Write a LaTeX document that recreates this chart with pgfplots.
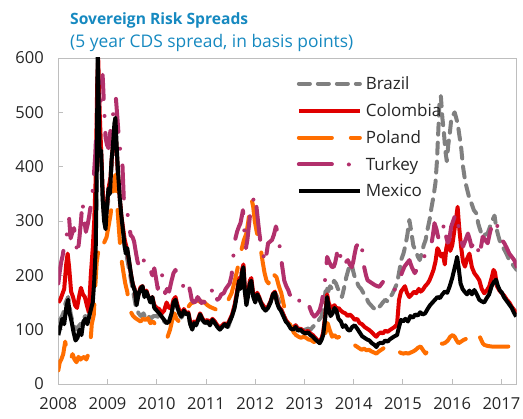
\documentclass[border=0pt]{standalone}
\usepackage{fontspec}
\setmainfont{Open Sans}
\usepackage{pgfplots}
\usepackage{pgfplotstable}
\pgfplotsset{compat=1.18}
\definecolor{ttl}{RGB}{22,137,192}
\definecolor{brz}{RGB}{128,128,128}
\definecolor{col}{RGB}{224,0,0}
\definecolor{pol}{RGB}{255,110,0}
\definecolor{tur}{RGB}{178,48,108}
\definecolor{axc}{RGB}{190,190,190}
\begin{document}
\pgfplotstableread{
t v
2008.00 115
2008.05 120
2008.10 130
2008.15 150
2008.20 160
2008.25 130
2008.30 110
2008.35 100
2008.40 105
2008.45 110
2008.50 120
2008.55 125
2008.60 120
2008.65 135
2008.70 160
2008.74 220
2008.77 320
2008.80 580
2008.83 480
2008.87 410
2008.91 330
2008.95 300
2008.99 320
2009.03 350
2009.07 390
2009.11 420
2009.15 450
2009.19 410
2009.23 360
2009.27 320
2009.31 280
2009.35 250
2009.39 235
2009.43 215
2009.48 190
2009.53 165
2009.58 140
2009.63 130
2009.68 125
2009.73 130
2009.78 120
2009.83 125
2009.88 120
2009.93 125
2010.00 125
2010.05 122
2010.10 120
2010.15 115
2010.20 112
2010.25 115
2010.30 130
2010.35 150
2010.40 145
2010.45 130
2010.50 122
2010.55 130
2010.60 125
2010.65 120
2010.70 105
2010.75 110
2010.80 108
2010.85 118
2010.90 120
2010.95 115
2011.00 112
2011.05 112
2011.10 108
2011.15 115
2011.20 110
2011.25 105
2011.30 100
2011.35 105
2011.40 108
2011.45 105
2011.50 118
2011.55 130
2011.60 150
2011.65 175
2011.70 180
2011.74 210
2011.78 175
2011.82 150
2011.86 168
2011.90 185
2011.94 175
2011.98 155
2012.03 165
2012.08 155
2012.13 145
2012.18 140
2012.23 138
2012.28 145
2012.33 155
2012.38 165
2012.42 165
2012.47 155
2012.52 140
2012.57 128
2012.62 118
2012.67 112
2012.72 105
2012.77 103
2012.82 108
2012.87 102
2012.92 105
2012.97 100
2013.02 100
2013.07 102
2013.12 100
2013.17 105
2013.22 110
2013.27 115
2013.31 120
2013.35 125
2013.40 150
2013.44 180
2013.48 170
2013.52 180
2013.56 175
2013.60 190
2013.64 185
2013.68 175
2013.72 170
2013.76 160
2013.80 175
2013.85 197
2013.89 210
2013.93 222
2013.97 215
2014.01 200
2014.05 191
2014.10 180
2014.15 175
2014.20 167
2014.25 160
2014.30 150
2014.35 145
2014.40 140
2014.46 136
2014.50 140
2014.55 145
2014.59 150
2014.64 155
2014.69 152
2014.73 160
2014.78 165
2014.83 175
2014.88 185
2014.93 210
2014.97 230
2015.01 240
2015.05 255
2015.09 275
2015.13 302
2015.17 280
2015.21 255
2015.26 245
2015.30 235
2015.34 228
2015.38 240
2015.42 255
2015.46 265
2015.50 285
2015.54 302
2015.58 325
2015.62 345
2015.66 370
2015.69 410
2015.72 470
2015.74 515
2015.77 530
2015.80 490
2015.83 465
2015.86 430
2015.89 410
2015.92 440
2015.95 460
2015.98 486
2016.02 495
2016.05 500
2016.08 490
2016.11 480
2016.15 455
2016.18 437
2016.22 400
2016.26 375
2016.29 363
2016.34 345
2016.39 333
2016.44 320
2016.49 314
2016.53 295
2016.57 283
2016.62 271
2016.67 275
2016.72 277
2016.77 290
2016.82 302
2016.86 310
2016.89 290
2016.93 275
2016.96 265
2017.01 255
2017.06 247
2017.11 238
2017.16 228
2017.21 222
2017.26 216
2017.31 210
}\brazil
\pgfplotstableread{
t v
2008.00 150
2008.04 155
2008.08 165
2008.12 175
2008.16 220
2008.19 240
2008.22 215
2008.26 170
2008.30 160
2008.34 145
2008.38 140
2008.42 160
2008.46 177
2008.50 165
2008.54 160
2008.58 145
2008.62 132
2008.66 200
2008.70 250
2008.73 300
2008.76 380
2008.79 550
2008.81 600
2008.84 500
2008.87 430
2008.90 360
2008.93 310
2008.96 300
2008.99 330
2009.02 360
2009.06 380
2009.09 420
2009.12 450
2009.15 470
2009.18 440
2009.21 390
2009.25 340
2009.28 310
2009.31 290
2009.35 265
2009.39 250
2009.43 230
2009.47 205
2009.51 185
2009.55 175
2009.59 150
2009.63 165
2009.67 178
2009.71 180
2009.75 165
2009.79 172
2009.83 160
2009.87 155
2009.91 160
2009.95 145
2010.00 140
2010.05 138
2010.10 130
2010.15 135
2010.20 150
2010.25 140
2010.30 140
2010.34 155
2010.38 160
2010.42 145
2010.46 135
2010.50 128
2010.55 138
2010.60 130
2010.64 132
2010.68 115
2010.72 105
2010.76 115
2010.80 112
2010.84 120
2010.88 130
2010.93 120
2010.98 115
2011.03 118
2011.08 112
2011.13 120
2011.18 115
2011.23 108
2011.28 103
2011.33 108
2011.38 112
2011.43 108
2011.48 118
2011.53 128
2011.58 145
2011.63 170
2011.67 195
2011.70 180
2011.73 210
2011.76 220
2011.79 175
2011.82 150
2011.86 170
2011.89 190
2011.92 195
2011.96 165
2012.00 155
2012.04 168
2012.08 160
2012.12 150
2012.16 145
2012.21 138
2012.26 142
2012.31 152
2012.36 166
2012.40 170
2012.44 152
2012.48 142
2012.52 138
2012.57 128
2012.62 118
2012.67 112
2012.72 105
2012.77 102
2012.82 108
2012.87 100
2012.92 102
2012.97 98
2013.02 95
2013.07 98
2013.12 93
2013.17 90
2013.22 85
2013.27 80
2013.31 78
2013.35 85
2013.38 95
2013.42 125
2013.46 165
2013.49 150
2013.53 140
2013.57 142
2013.61 145
2013.65 138
2013.69 140
2013.74 135
2013.78 132
2013.83 130
2013.88 125
2013.92 128
2013.97 124
2014.02 118
2014.07 120
2014.12 112
2014.17 110
2014.22 105
2014.27 102
2014.32 99
2014.37 95
2014.42 90
2014.46 87
2014.50 92
2014.55 95
2014.59 93
2014.64 98
2014.69 96
2014.73 99
2014.78 102
2014.83 105
2014.88 110
2014.92 155
2014.96 170
2015.00 175
2015.04 180
2015.08 168
2015.13 160
2015.18 165
2015.23 170
2015.27 167
2015.32 175
2015.36 170
2015.40 173
2015.45 180
2015.50 185
2015.54 191
2015.58 200
2015.62 210
2015.66 225
2015.70 250
2015.73 245
2015.77 235
2015.81 240
2015.85 220
2015.88 250
2015.92 265
2015.96 245
2016.00 255
2016.04 280
2016.08 305
2016.11 326
2016.14 290
2016.18 253
2016.22 225
2016.26 216
2016.30 230
2016.35 240
2016.40 215
2016.45 204
2016.50 198
2016.55 191
2016.60 175
2016.65 167
2016.70 172
2016.75 179
2016.80 195
2016.84 210
2016.87 205
2016.91 180
2016.96 172
2017.01 167
2017.06 162
2017.11 155
2017.16 150
2017.21 142
2017.26 136
2017.31 130
}\colombia
\pgfplotstableread{
t v
2008.00 25
2008.03 40
2008.06 45
2008.10 55
2008.14 78
2008.17 60
2008.21 50
2008.25 45
2008.29 55
2008.33 45
2008.37 40
2008.41 50
2008.45 45
2008.49 48
2008.53 50
2008.57 45
2008.61 55
2008.65 72
2008.68 110
2008.72 127
2008.75 177
2008.78 224
2008.82 250
2008.86 262
2008.90 255
2008.94 262
2008.98 270
2009.02 290
2009.06 311
2009.10 340
2009.13 370
2009.16 385
2009.19 340
2009.22 299
2009.26 250
2009.29 225
2009.32 207
2009.36 185
2009.40 170
2009.43 150
2009.47 133
2009.52 125
2009.57 121
2009.62 118
2009.67 115
2009.72 120
2009.77 118
2009.82 121
2009.87 112
2009.92 115
2009.97 110
2010.02 105
2010.07 100
2010.12 95
2010.17 90
2010.22 87
2010.27 100
2010.32 120
2010.36 130
2010.40 120
2010.45 115
2010.50 124
2010.55 130
2010.60 138
2010.64 142
2010.69 148
2010.74 150
2010.79 152
2010.84 155
2010.89 150
2010.94 152
2010.98 149
2011.03 145
2011.08 142
2011.13 140
2011.18 138
2011.23 136
2011.28 140
2011.33 142
2011.38 142
2011.43 150
2011.48 160
2011.52 167
2011.57 185
2011.62 204
2011.67 225
2011.72 247
2011.77 265
2011.82 277
2011.86 300
2011.90 330
2011.93 339
2011.96 325
2011.99 300
2012.03 280
2012.07 265
2012.11 250
2012.15 225
2012.19 204
2012.23 190
2012.27 185
2012.31 200
2012.35 210
2012.39 200
2012.43 197
2012.48 180
2012.53 167
2012.58 145
2012.63 130
2012.68 115
2012.73 105
2012.78 95
2012.83 90
2012.88 87
2012.93 85
2012.98 87
2013.03 85
2013.08 82
2013.13 81
2013.18 78
2013.23 76
2013.28 75
2013.33 74
2013.38 78
2013.43 95
2013.47 112
2013.51 100
2013.56 87
2013.61 90
2013.66 85
2013.71 87
2013.76 84
2013.81 82
2013.86 81
2013.91 80
2013.96 76
2014.01 72
2014.06 69
2014.11 66
2014.16 63
2014.21 65
2014.26 62
2014.31 63
2014.36 60
2014.41 58
2014.46 56
2014.51 60
2014.56 63
2014.61 66
2014.66 69
2014.71 66
2014.76 63
2014.81 62
2014.86 63
2014.91 60
2014.96 57
2015.01 56
2015.06 57
2015.11 56
2015.16 58
2015.21 60
2015.26 63
2015.31 67
2015.36 69
2015.41 62
2015.46 56
2015.51 62
2015.56 67
2015.61 69
2015.66 72
2015.71 75
2015.76 75
2015.81 74
2015.86 76
2015.91 80
2015.96 87
2016.01 90
2016.05 87
2016.09 80
2016.13 75
2016.18 78
2016.23 81
2016.28 83
2016.33 85
2016.38 87
2016.43 92
2016.48 95
2016.52 93
2016.57 85
2016.62 75
2016.65 72
2016.72 70
2016.80 69
2017.31 69
}\poland
\pgfplotstableread{
t v
2008.00 185
2008.03 207
2008.06 225
2008.09 237
2008.12 255
2008.16 262
2008.19 290
2008.22 305
2008.25 268
2008.29 280
2008.32 287
2008.36 260
2008.39 237
2008.43 270
2008.46 299
2008.49 336
2008.53 300
2008.56 280
2008.60 295
2008.63 311
2008.66 330
2008.69 348
2008.72 380
2008.75 421
2008.78 480
2008.81 540
2008.84 500
2008.87 530
2008.90 569
2008.93 510
2008.96 453
2008.99 440
2009.02 434
2009.05 460
2009.08 480
2009.11 495
2009.14 515
2009.17 526
2009.20 490
2009.23 452
2009.27 420
2009.30 409
2009.33 342
2009.37 330
2009.41 311
2009.44 290
2009.47 274
2009.51 270
2009.54 262
2009.58 240
2009.61 225
2009.65 215
2009.68 213
2009.72 230
2009.75 225
2009.79 215
2009.83 207
2009.87 210
2009.91 200
2009.95 213
2009.98 197
2010.02 175
2010.06 190
2010.10 204
2010.14 185
2010.17 167
2010.21 175
2010.25 170
2010.30 190
2010.34 204
2010.38 210
2010.42 200
2010.46 190
2010.50 185
2010.54 180
2010.57 173
2010.61 180
2010.64 185
2010.68 170
2010.71 155
2010.75 150
2010.79 152
2010.83 160
2010.87 155
2010.91 149
2010.95 152
2011.00 148
2011.04 149
2011.08 160
2011.12 172
2011.15 179
2011.19 165
2011.23 155
2011.27 158
2011.31 165
2011.36 167
2011.40 175
2011.44 180
2011.48 185
2011.52 200
2011.56 240
2011.59 265
2011.63 280
2011.67 290
2011.70 296
2011.73 310
2011.75 320
2011.78 280
2011.81 250
2011.84 265
2011.87 290
2011.89 308
2011.92 320
2011.95 335
2011.99 348
2012.02 330
2012.05 305
2012.08 280
2012.11 260
2012.14 250
2012.17 235
2012.20 222
2012.23 240
2012.26 259
2012.30 262
2012.34 265
2012.38 275
2012.42 290
2012.45 280
2012.48 265
2012.52 235
2012.55 215
2012.59 190
2012.63 180
2012.67 173
2012.70 165
2012.73 160
2012.78 165
2012.83 167
2012.88 155
2012.93 149
2012.97 140
2013.00 136
2013.05 138
2013.10 142
2013.15 130
2013.20 124
2013.25 128
2013.31 136
2013.35 150
2013.39 173
2013.43 200
2013.46 234
2013.50 225
2013.55 216
2013.59 215
2013.62 222
2013.65 235
2013.68 253
2013.72 240
2013.75 225
2013.78 216
2013.82 220
2013.85 225
2013.88 228
2013.92 220
2013.96 215
2013.99 225
2014.02 240
2014.05 253
2014.09 258
2014.12 262
2014.15 265
2014.18 240
2014.21 216
2014.25 200
2014.28 191
2014.33 188
2014.38 185
2014.43 182
2014.48 180
2014.52 179
2014.57 185
2014.62 191
2014.67 185
2014.73 179
2014.78 176
2014.83 173
2014.88 180
2014.93 191
2014.98 205
2015.03 216
2015.08 222
2015.13 228
2015.18 215
2015.24 204
2015.29 212
2015.34 222
2015.40 230
2015.47 240
2015.52 248
2015.57 253
2015.61 275
2015.64 296
2015.68 285
2015.71 272
2015.74 265
2015.78 275
2015.81 285
2015.84 296
2015.88 270
2015.91 260
2015.94 265
2015.98 290
2016.02 300
2016.05 308
2016.08 314
2016.12 295
2016.15 277
2016.19 262
2016.22 253
2016.27 265
2016.32 277
2016.36 265
2016.39 253
2016.44 258
2016.49 265
2016.52 250
2016.55 234
2016.59 255
2016.62 271
2016.67 265
2016.72 259
2016.77 280
2016.82 296
2016.86 300
2016.89 302
2016.93 285
2016.96 271
2017.01 265
2017.06 259
2017.11 250
2017.16 240
2017.21 234
2017.26 228
2017.31 216
}\turkey
\pgfplotstableread{
t v
2008.00 90
2008.04 105
2008.08 120
2008.12 110
2008.16 140
2008.20 155
2008.23 130
2008.27 115
2008.31 95
2008.35 80
2008.39 85
2008.43 100
2008.47 90
2008.51 115
2008.55 120
2008.59 110
2008.63 125
2008.67 140
2008.70 150
2008.73 190
2008.76 250
2008.78 380
2008.80 610
2008.82 520
2008.84 420
2008.87 430
2008.90 340
2008.93 300
2008.96 285
2008.99 330
2009.02 360
2009.05 350
2009.08 410
2009.11 440
2009.14 480
2009.16 490
2009.19 430
2009.22 380
2009.25 340
2009.28 310
2009.31 285
2009.34 260
2009.37 240
2009.40 250
2009.44 225
2009.48 200
2009.52 180
2009.56 170
2009.59 145
2009.63 165
2009.67 175
2009.71 180
2009.75 160
2009.79 170
2009.83 160
2009.87 150
2009.91 160
2009.95 140
2010.00 135
2010.05 130
2010.10 124
2010.15 118
2010.20 112
2010.25 115
2010.30 130
2010.34 150
2010.38 155
2010.42 140
2010.46 130
2010.50 124
2010.55 135
2010.60 128
2010.64 130
2010.68 110
2010.72 100
2010.76 112
2010.80 108
2010.84 118
2010.88 128
2010.93 118
2010.98 112
2011.03 115
2011.08 108
2011.13 118
2011.18 112
2011.23 105
2011.28 100
2011.33 105
2011.38 110
2011.43 105
2011.48 115
2011.53 125
2011.58 140
2011.63 165
2011.67 190
2011.70 175
2011.73 205
2011.76 215
2011.79 170
2011.82 145
2011.86 165
2011.89 185
2011.92 190
2011.96 160
2012.00 150
2012.04 165
2012.08 158
2012.12 148
2012.16 140
2012.21 135
2012.26 140
2012.31 150
2012.36 165
2012.40 168
2012.44 150
2012.48 140
2012.52 135
2012.57 125
2012.62 115
2012.67 110
2012.72 102
2012.77 100
2012.82 105
2012.87 98
2012.92 100
2012.97 95
2013.02 93
2013.07 95
2013.12 90
2013.17 87
2013.22 82
2013.27 78
2013.31 75
2013.35 82
2013.38 90
2013.42 120
2013.46 160
2013.49 140
2013.53 125
2013.57 130
2013.61 140
2013.65 135
2013.69 120
2013.74 115
2013.78 105
2013.83 108
2013.88 100
2013.92 98
2013.97 105
2014.02 108
2014.07 102
2014.12 95
2014.17 88
2014.22 85
2014.27 82
2014.32 80
2014.37 75
2014.42 72
2014.46 68
2014.50 74
2014.55 76
2014.59 75
2014.64 80
2014.69 78
2014.73 82
2014.78 85
2014.83 88
2014.88 90
2014.92 105
2014.96 118
2015.00 115
2015.05 120
2015.10 115
2015.15 125
2015.20 122
2015.25 128
2015.30 126
2015.35 132
2015.40 128
2015.45 130
2015.50 138
2015.55 145
2015.60 150
2015.65 155
2015.70 160
2015.75 158
2015.80 165
2015.85 170
2015.90 168
2015.95 180
2016.00 195
2016.04 210
2016.08 225
2016.10 234
2016.13 215
2016.17 185
2016.21 175
2016.25 170
2016.30 165
2016.35 172
2016.40 165
2016.45 173
2016.50 165
2016.55 155
2016.60 152
2016.65 150
2016.70 158
2016.75 165
2016.80 180
2016.85 188
2016.89 192
2016.93 180
2016.97 172
2017.01 168
2017.05 160
2017.09 155
2017.13 150
2017.17 145
2017.21 140
2017.25 132
2017.30 124
}\mexico
\begin{tikzpicture}
\useasboundingbox (-58.3pt,-35pt) rectangle (464.7pt,384pt);
\begin{axis}[
  at={(0pt,0pt)}, anchor=south west,
  scale only axis, width=458.4pt, height=326pt,
  xmin=2008, xmax=2017.31, ymin=0, ymax=600,
  xtick={2008,2009,...,2017}, ytick={0,100,...,600},
  xtick pos=bottom, ytick pos=left,
  tick align=inside,
  major tick length=5pt,
  axis line style={axc, line width=0.9pt},
  tick style={axc, line width=0.9pt},
  /pgf/number format/assume math mode=true,
  /pgf/number format/1000 sep={},
  ticklabel style={font=\fontsize{16.5}{19}\selectfont, text=black!85},
  xticklabel style={yshift=-10pt},
  yticklabel style={xshift=-11pt},
  legend style={at={(0.52,0.953)}, anchor=north west, draw=none, fill=none,
    font=\fontsize{17}{20}\selectfont, row sep=6.5pt, inner sep=0pt,
    nodes={inner xsep=4pt, inner ysep=3pt, text=black!85}},
  legend cell align=left,
  legend image code/.code={\draw[#1] (0pt,0pt) -- (61pt,0pt);},
  every axis plot/.append style={line width=4pt, line join=round},
]
\addplot[brz, line cap=round, dash pattern=on 11pt off 8pt] table[x=t,y=v] {\brazil};
\addlegendentry{Brazil}
\addplot[col] table[x=t,y=v] {\colombia};
\addlegendentry{Colombia}
\addplot[pol, line cap=round, dash pattern=on 33pt off 19pt] table[x=t,y=v] {\poland};
\addlegendentry{Poland}
\addplot[tur, line cap=round, dash pattern=on 33pt off 17pt on 0pt off 17pt] table[x=t,y=v] {\turkey};
\addlegendentry{Turkey}
\addplot[black] table[x=t,y=v] {\mexico};
\addlegendentry{Mexico}
\end{axis}
\node[anchor=base west, text=ttl, font=\bfseries\fontsize{15.6}{19}\selectfont, inner sep=0pt] at (11.7pt,359pt) {Sovereign Risk Spreads};
\node[anchor=base west, text=ttl, font=\fontsize{17.4}{20}\selectfont, inner sep=0pt] at (11.7pt,336pt) {(5 year CDS spread, in basis points)};
\end{tikzpicture}
\end{document}
